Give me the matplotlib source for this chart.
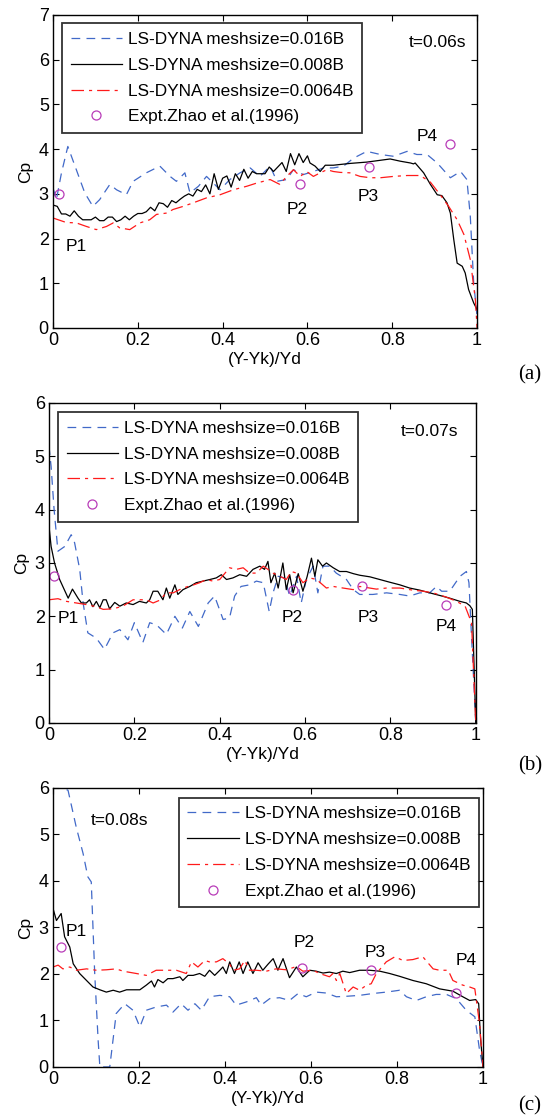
import matplotlib
matplotlib.use("Agg")
import matplotlib.pyplot as plt

plt.rcParams['font.family'] = ['Liberation Sans', 'DejaVu Sans']

# ---------------- Panel (a), t=0.06s ----------------
a_black_x = [0, 0.01, 0.02, 0.03, 0.04, 0.05, 0.06, 0.07, 0.08, 0.09, 0.10, 0.11, 0.12, 0.13, 0.14, 0.15,
             0.16, 0.17, 0.18, 0.19, 0.20, 0.21, 0.22, 0.23, 0.24, 0.25, 0.26, 0.27, 0.28, 0.29, 0.30, 0.31,
             0.32, 0.33, 0.34, 0.35, 0.36, 0.37, 0.38, 0.39, 0.40, 0.41, 0.42, 0.43, 0.44, 0.45, 0.46, 0.47,
             0.48, 0.49, 0.50, 0.51, 0.52, 0.53, 0.54, 0.55, 0.56, 0.57, 0.58, 0.59, 0.60, 0.606, 0.618, 0.630,
             0.642, 0.661, 0.70, 0.74, 0.795, 0.819, 0.843, 0.85, 0.854, 0.874, 0.89, 0.906, 0.917, 0.929,
             0.937, 0.945, 0.953, 0.965, 0.972, 0.98, 0.992, 1.0]
a_black_y = [2.75, 2.72, 2.55, 2.55, 2.50, 2.62, 2.50, 2.42, 2.42, 2.42, 2.48, 2.40, 2.40, 2.48, 2.48, 2.38,
             2.42, 2.50, 2.42, 2.50, 2.56, 2.56, 2.60, 2.70, 2.62, 2.80, 2.78, 2.70, 2.85, 2.80, 2.88, 2.95,
             3.00, 2.95, 3.10, 3.05, 3.20, 3.00, 3.45, 3.10, 3.35, 3.40, 3.15, 3.45, 3.30, 3.55, 3.35, 3.50,
             3.45, 3.45, 3.45, 3.60, 3.50, 3.60, 3.70, 3.50, 3.90, 3.65, 3.90, 3.70, 3.85, 3.69, 3.62, 3.50,
             3.64, 3.64, 3.68, 3.71, 3.78, 3.73, 3.69, 3.67, 3.69, 3.47, 3.21, 2.98, 2.96, 2.80,
             2.57, 1.98, 1.45, 1.38, 1.23, 0.86, 0.56, 0.41]

a_blue_x = [0, 0.008, 0.02, 0.035, 0.055, 0.075, 0.094, 0.11, 0.134, 0.15, 0.173, 0.189, 0.22, 0.252, 0.276,
            0.291, 0.311, 0.323, 0.343, 0.362, 0.378, 0.394, 0.417, 0.441, 0.465, 0.488, 0.512, 0.528, 0.551,
            0.567, 0.59, 0.614, 0.638, 0.661, 0.685, 0.709, 0.74, 0.772, 0.803, 0.835, 0.858, 0.882, 0.906,
            0.937, 0.961, 0.976, 0.984, 0.992, 1.0]
a_blue_y = [3.13, 2.87, 3.47, 4.06, 3.54, 3.02, 2.72, 2.87, 3.21, 3.09, 2.98, 3.28, 3.47, 3.62, 3.39,
            3.28, 3.47, 3.02, 3.17, 3.39, 3.24, 3.09, 3.32, 3.47, 3.58, 3.39, 3.62, 3.28, 3.32,
            3.54, 3.43, 3.50, 3.58, 3.58, 3.62, 3.80, 3.95, 3.88, 3.84, 3.95, 3.88, 3.88, 3.69,
            3.36, 3.50, 3.32, 2.50, 1.01, 0.26]

a_red_x = [0, 0.031, 0.055, 0.079, 0.102, 0.126, 0.142, 0.157, 0.181, 0.205, 0.228, 0.244, 0.268, 0.283, 0.307,
           0.331, 0.362, 0.394, 0.425, 0.457, 0.480, 0.512, 0.535, 0.551, 0.567, 0.583, 0.598, 0.614, 0.630,
           0.646, 0.661, 0.677, 0.70, 0.724, 0.748, 0.772, 0.803, 0.835, 0.866, 0.89, 0.913, 0.933, 0.953,
           0.969, 0.984, 0.996, 1.0]
a_red_y = [2.46, 2.36, 2.35, 2.27, 2.20, 2.27, 2.35, 2.24, 2.20, 2.35, 2.42, 2.54, 2.57, 2.65, 2.72,
           2.80, 2.91, 2.98, 3.09, 3.17, 3.24, 3.32, 3.21, 3.39, 3.54, 3.39, 3.50, 3.39, 3.47,
           3.54, 3.50, 3.48, 3.47, 3.39, 3.36, 3.36, 3.39, 3.41, 3.41, 3.26, 2.98, 2.72, 2.42,
           2.09, 1.53, 0.63, 0.0]

a_exp_x = [0.014, 0.583, 0.744, 0.937]
a_exp_y = [3.00, 3.21, 3.60, 4.12]

# ---------------- Panel (b), t=0.07s ----------------
b_black_x = [0, 0.005, 0.013, 0.025, 0.041, 0.045, 0.055, 0.068, 0.076, 0.0875, 0.095, 0.103, 0.111, 0.119,
             0.127, 0.134, 0.142, 0.154, 0.166, 0.181, 0.197, 0.212, 0.228, 0.236, 0.244, 0.255, 0.267, 0.275,
             0.283, 0.295, 0.302, 0.314, 0.33, 0.345, 0.361, 0.377, 0.392, 0.404, 0.416, 0.431, 0.447, 0.463,
             0.478, 0.494, 0.505, 0.513, 0.52, 0.529, 0.537, 0.548, 0.556, 0.564, 0.572, 0.584, 0.595, 0.605,
             0.615, 0.623, 0.63, 0.641, 0.65, 0.666, 0.681, 0.697, 0.713, 0.728, 0.752, 0.775, 0.798, 0.822,
             0.845, 0.869, 0.892, 0.916, 0.939, 0.963, 0.978, 0.986, 0.992, 1.0]
b_black_y = [3.69, 3.31, 3.00, 2.69, 2.41, 2.34, 2.51, 2.34, 2.25, 2.25, 2.31, 2.18, 2.28, 2.16,
             2.31, 2.31, 2.14, 2.26, 2.19, 2.25, 2.22, 2.28, 2.25, 2.31, 2.47, 2.47, 2.31, 2.53,
             2.34, 2.59, 2.41, 2.50, 2.56, 2.63, 2.66, 2.69, 2.72, 2.78, 2.69, 2.72, 2.78, 2.75,
             2.88, 2.94, 2.88, 3.03, 2.63, 2.81, 2.53, 3.00, 2.50, 2.78, 2.44, 2.80, 2.47, 2.75,
             3.09, 2.75, 3.06, 2.94, 3.00, 2.91, 2.84, 2.84, 2.80, 2.77, 2.74, 2.69, 2.64, 2.59,
             2.53, 2.49, 2.44, 2.39, 2.34, 2.28, 2.25, 2.20, 2.13, 0.0]

b_blue_x = [0, 0.005, 0.012, 0.021, 0.037, 0.052, 0.06, 0.072, 0.08, 0.091, 0.111, 0.13, 0.15, 0.166, 0.185,
            0.2, 0.22, 0.236, 0.252, 0.275, 0.295, 0.3125, 0.33, 0.35, 0.373, 0.388, 0.408, 0.423, 0.435,
            0.45, 0.47, 0.486, 0.502, 0.516, 0.525, 0.537, 0.552, 0.564, 0.58, 0.591, 0.603, 0.619, 0.63,
            0.642, 0.658, 0.673, 0.697, 0.713, 0.728, 0.759, 0.791, 0.822, 0.845, 0.869, 0.892, 0.908,
            0.92, 0.939, 0.963, 0.978, 0.984, 0.99, 1.0]
b_blue_y = [5.19, 4.81, 4.00, 3.22, 3.31, 3.53, 3.38, 2.88, 2.25, 1.69, 1.59, 1.38, 1.69, 1.75, 1.56,
            1.88, 1.51, 1.88, 1.84, 1.66, 2.00, 1.78, 2.09, 1.81, 2.25, 2.38, 1.94, 1.97, 2.38,
            2.56, 2.59, 2.66, 2.63, 2.09, 2.44, 2.75, 2.72, 2.38, 2.75, 2.25, 2.69, 2.94, 2.44,
            2.94, 2.94, 2.81, 2.69, 2.50, 2.41, 2.41, 2.44, 2.41, 2.38, 2.44, 2.44, 2.56,
            2.47, 2.47, 2.75, 2.84, 2.63, 1.63, 0.0]

b_red_x = [0, 0.021, 0.041, 0.064, 0.0875, 0.111, 0.127, 0.15, 0.173, 0.197, 0.212, 0.228, 0.244, 0.259,
           0.275, 0.291, 0.306, 0.322, 0.339, 0.353, 0.369, 0.384, 0.4, 0.423, 0.439, 0.455, 0.47, 0.486,
           0.502, 0.513, 0.525, 0.541, 0.556, 0.568, 0.58, 0.595, 0.611, 0.627, 0.65, 0.666, 0.689, 0.713,
           0.728, 0.767, 0.791, 0.822, 0.853, 0.877, 0.9, 0.931, 0.955, 0.975, 0.99, 1.0]
b_red_y = [2.31, 2.33, 2.28, 2.25, 2.22, 2.18, 2.13, 2.14, 2.19, 2.31, 2.31, 2.31, 2.25, 2.30,
           2.44, 2.44, 2.50, 2.55, 2.59, 2.63, 2.69, 2.66, 2.69, 2.91, 2.88, 2.91, 2.81, 2.81,
           2.94, 2.88, 2.81, 2.75, 2.69, 2.84, 2.81, 2.63, 2.72, 2.69, 2.53, 2.56, 2.53, 2.50,
           2.56, 2.51, 2.53, 2.53, 2.49, 2.47, 2.44, 2.36, 2.28, 2.19, 1.88, 0.0]

b_exp_x = [0.011, 0.572, 0.734, 0.931]
b_exp_y = [2.76, 2.49, 2.56, 2.21]

# ---------------- Panel (c), t=0.08s ----------------
c_black_x = [0, 0.008, 0.019, 0.027, 0.039, 0.047, 0.062, 0.078, 0.093, 0.109, 0.124, 0.14, 0.155, 0.171,
             0.186, 0.202, 0.217, 0.229, 0.236, 0.244, 0.256, 0.267, 0.279, 0.295, 0.302, 0.314, 0.326,
             0.341, 0.353, 0.364, 0.376, 0.388, 0.395, 0.403, 0.411, 0.422, 0.433, 0.442, 0.453, 0.465,
             0.477, 0.488, 0.5, 0.512, 0.523, 0.535, 0.55, 0.566, 0.581, 0.597, 0.612, 0.628, 0.643,
             0.659, 0.674, 0.69, 0.713, 0.736, 0.76, 0.783, 0.806, 0.837, 0.868, 0.899, 0.93, 0.953,
             0.969, 0.983, 0.99, 0.994, 1.0]
c_black_y = [3.41, 3.15, 3.30, 2.80, 2.58, 2.22, 2.01, 1.86, 1.72, 1.66, 1.61, 1.65, 1.61, 1.66,
             1.66, 1.66, 1.76, 1.85, 1.72, 1.88, 1.81, 1.90, 1.90, 1.94, 1.86, 1.97, 1.97,
             2.01, 1.95, 2.08, 1.97, 2.08, 2.15, 2.01, 2.26, 2.01, 2.26, 2.01, 2.26, 2.01,
             2.24, 2.08, 2.21, 2.33, 2.08, 2.33, 1.92, 2.15, 1.94, 2.08, 2.06, 2.02, 2.04,
             2.01, 2.06, 2.03, 2.08, 2.08, 2.06, 2.01, 1.95, 1.86, 1.79, 1.68, 1.63, 1.51,
             1.43, 1.45, 1.36, 0.65, 0.0]

c_blue_x = [0, 0.035, 0.054, 0.07, 0.081, 0.089, 0.097, 0.105, 0.109, 0.132, 0.147, 0.167, 0.186, 0.202,
            0.217, 0.24, 0.264, 0.279, 0.298, 0.314, 0.33, 0.345, 0.364, 0.388, 0.411, 0.426, 0.45, 0.473,
            0.484, 0.504, 0.527, 0.55, 0.57, 0.589, 0.612, 0.636, 0.659, 0.682, 0.713, 0.744, 0.775,
            0.806, 0.822, 0.845, 0.868, 0.891, 0.915, 0.938, 0.961, 0.981, 0.992, 1.0]
c_blue_y = [6.10, 5.95, 5.16, 4.59, 4.09, 3.98, 2.01, 0.57, 0.0, 0.0, 1.15, 1.36, 1.22, 0.86,
            1.22, 1.29, 1.33, 1.18, 1.36, 1.22, 1.36, 1.22, 1.51, 1.54, 1.51, 1.33, 1.40, 1.49,
            1.33, 1.47, 1.49, 1.43, 1.58, 1.51, 1.61, 1.59, 1.51, 1.52, 1.54, 1.58, 1.61,
            1.65, 1.51, 1.43, 1.51, 1.56, 1.56, 1.47, 1.22, 1.08, 0.36, 0.0]

c_red_x = [0, 0.012, 0.023, 0.039, 0.054, 0.078, 0.101, 0.124, 0.147, 0.163, 0.194, 0.217, 0.24, 0.264,
           0.287, 0.31, 0.322, 0.337, 0.353, 0.364, 0.38, 0.395, 0.411, 0.419, 0.434, 0.446, 0.457, 0.473,
           0.496, 0.519, 0.543, 0.566, 0.581, 0.605, 0.62, 0.643, 0.651, 0.659, 0.667, 0.682, 0.698,
           0.713, 0.729, 0.74, 0.752, 0.775, 0.795, 0.814, 0.837, 0.86, 0.884, 0.899, 0.919, 0.93,
           0.953, 0.969, 0.981, 0.992, 1.0]
c_red_y = [2.15, 2.19, 2.11, 2.15, 2.08, 2.11, 2.08, 2.09, 2.11, 2.06, 2.01, 1.97, 2.08, 2.08,
           2.08, 2.01, 2.26, 2.15, 2.29, 2.26, 2.26, 2.33, 2.21, 2.08, 2.11, 2.29, 2.08, 2.08,
           2.06, 2.11, 2.09, 2.16, 2.06, 2.08, 2.01, 1.94, 2.01, 1.86, 2.01, 1.58, 1.72,
           1.65, 1.76, 1.79, 2.01, 2.26, 2.37, 2.29, 2.31, 2.37, 2.11, 2.08, 2.08, 1.86,
           1.76, 1.72, 1.68, 0.93, 0.0]

c_exp_x = [0.018, 0.578, 0.739, 0.938]
c_exp_y = [2.57, 2.13, 2.09, 1.59]

legend_labels = ['LS-DYNA meshsize=0.016B', 'LS-DYNA meshsize=0.008B',
                 'LS-DYNA meshsize=0.0064B', 'Expt.Zhao et al.(1996)']
point_labels = ['P1', 'P2', 'P3', 'P4']

BLUE = '#4169c8'
RED = '#ff1a1a'
MAG = '#b83cb8'

fig = plt.figure(figsize=(5.43, 11.19), dpi=100)

panels = [
    dict(rect=[0.0976, 0.7069, 0.781, 0.2797], ymax=7,
         black=(a_black_x, a_black_y), blue=(a_blue_x, a_blue_y), red=(a_red_x, a_red_y),
         exp=(a_exp_x, a_exp_y), time='t=0.06s', tpos=(0.906, 6.38),
         ppos=[(0.054, 1.83), (0.575, 2.65), (0.744, 2.95), (0.882, 4.29)],
         leg=(0.021, 0.973), tag='(a)', tagpos=(0.976, 0.656)),
    dict(rect=[0.0902, 0.3539, 0.786, 0.286], ymax=6,
         black=(b_black_x, b_black_y), blue=(b_blue_x, b_blue_y), red=(b_red_x, b_red_y),
         exp=(b_exp_x, b_exp_y), time='t=0.07s', tpos=(0.892, 5.47),
         ppos=[(0.045, 1.95), (0.57, 1.97), (0.748, 1.97), (0.931, 1.81)],
         leg=(0.021, 0.971), tag='(b)', tagpos=(0.976, 0.307)),
    dict(rect=[0.0976, 0.0465, 0.7919, 0.2493], ymax=6,
         black=(c_black_x, c_black_y), blue=(c_blue_x, c_blue_y), red=(c_red_x, c_red_y),
         exp=(c_exp_x, c_exp_y), time='t=0.08s', tpos=(0.155, 5.30),
         ppos=[(0.054, 2.92), (0.585, 2.67), (0.75, 2.46), (0.96, 2.28)],
         leg=(0.292, 0.965), tag='(c)', tagpos=(0.976, 0.003)),
]

for p in panels:
    ax = fig.add_axes(p['rect'])
    l1, = ax.plot(*p['blue'], color=BLUE, lw=0.9, linestyle=(0, (7, 5)))
    l2, = ax.plot(*p['black'], color='black', lw=0.9)
    l3, = ax.plot(*p['red'], color=RED, lw=0.9, linestyle=(0, (10, 4, 2.5, 4)))
    l4, = ax.plot(*p['exp'], linestyle='none', marker='o', markersize=6.5,
                  markerfacecolor='none', markeredgecolor=MAG, markeredgewidth=0.9)
    ax.set_xlim(0, 1)
    ax.set_ylim(0, p['ymax'])
    ax.set_xticks([0, 0.2, 0.4, 0.6, 0.8, 1.0])
    ax.set_xticklabels(['0', '0.2', '0.4', '0.6', '0.8', '1'])
    ax.set_yticks(range(0, p['ymax'] + 1))
    ax.tick_params(direction='in', top=True, right=True, length=4, width=0.8,
                   labelsize=13, pad=3)
    for s in ax.spines.values():
        s.set_linewidth(1.0)
    ax.set_xlabel('(Y-Yk)/Yd', fontsize=12.5, labelpad=2)
    ax.set_ylabel('Cp', fontsize=12.5, labelpad=4)
    ax.text(*p['tpos'], p['time'], fontsize=12.5, ha='center', va='center')
    for lab, (px, py) in zip(point_labels, p['ppos']):
        ax.text(px, py, lab, fontsize=12.5, ha='center', va='center')
    leg = ax.legend([l1, l2, l3, l4], legend_labels, loc='upper left',
                    bbox_to_anchor=p['leg'], fontsize=12.4, frameon=True, fancybox=False,
                    handlelength=3.0, handletextpad=0.35, labelspacing=0.62,
                    borderpad=0.5, borderaxespad=0.0)
    leg.get_frame().set_edgecolor('black')
    leg.get_frame().set_linewidth(1.3)
    fig.text(*p['tagpos'], p['tag'], fontsize=15, family='Liberation Serif',
             ha='center', va='bottom')

fig.savefig('out.png', dpi=100)
